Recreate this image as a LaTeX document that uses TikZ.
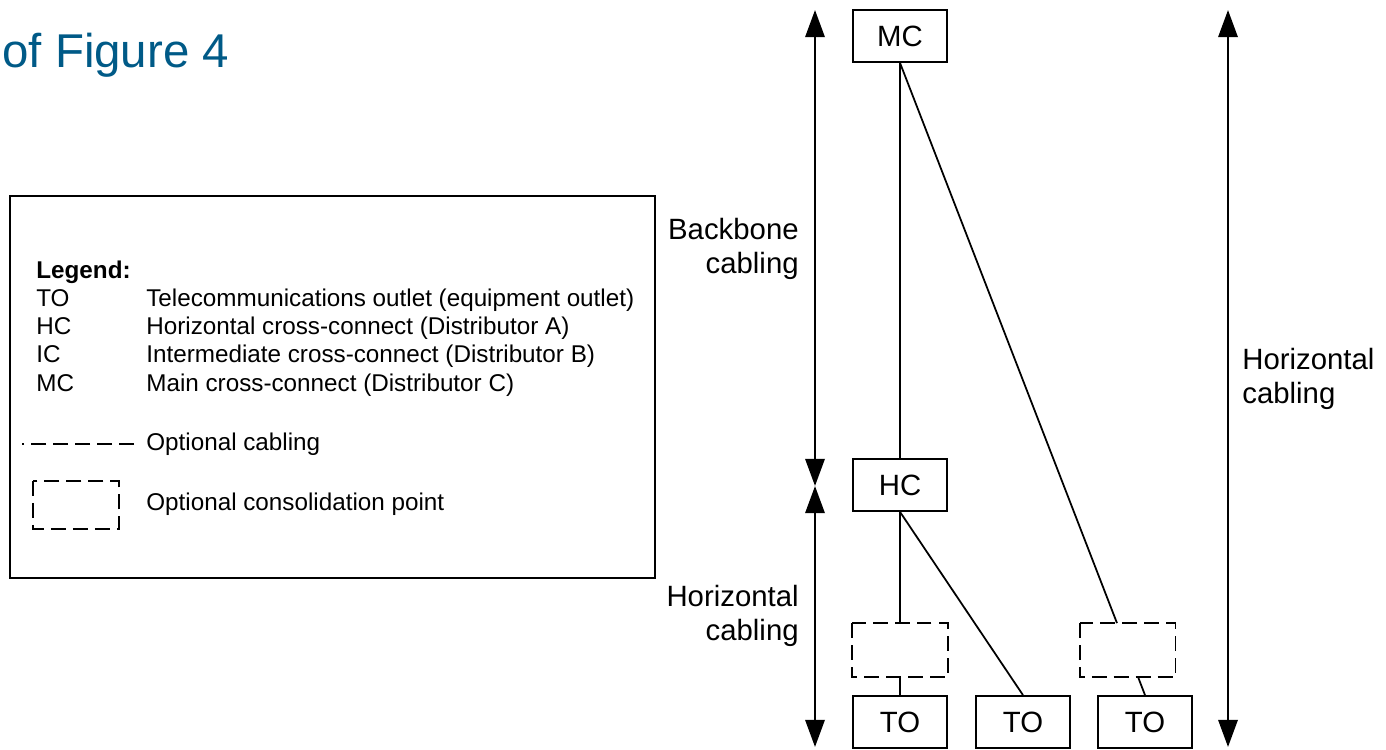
\documentclass[tikz,border=0pt]{standalone}
\usepackage{fontspec}
\setmainfont{Liberation Sans}
\usetikzlibrary{arrows.meta}
\definecolor{figblue}{RGB}{0,90,135}
\tikzstyle{box} = [draw,line width=1pt,minimum width=1.88cm,minimum height=1.04cm,inner sep=0pt,font=\fontsize{16.7}{19.3}\selectfont]
\tikzstyle{optdash} = [line width=1pt,dash pattern=on 8.5pt off 4pt]
\tikzstyle{cable} = [line width=1pt]
\tikzstyle{span} = [{Triangle[length=15.5pt,width=11pt]}-{Triangle[length=15.5pt,width=11pt]},line width=1.4pt]
\tikzstyle{lbl} = [inner sep=0pt,font=\fontsize{16.7}{19.3}\selectfont]
\tikzstyle{legtxt} = [inner sep=0pt,anchor=base west,font=\fontsize{13.8}{16}\selectfont]

\begin{document}
\begin{tikzpicture}[x=0.02cm,y=-0.02cm]
    \useasboundingbox (0,0) rectangle (1386,750);
    \node[inner sep=0pt,anchor=base west,text=figblue,font=\fontsize{27}{32}\selectfont] (title) at (2,68) {of Figure 4};
    % legend
    \draw[line width=1.1pt] (10,196) rectangle (655,578);
    \node[legtxt,font=\fontsize{13.8}{16}\selectfont\bfseries] (legend) at (36,278) {Legend:};
    \node[legtxt] (kto) at (36,306) {TO};
    \node[legtxt] (kto2) at (146,306) {Telecommunications outlet (equipment outlet)};
    \node[legtxt] (khc) at (36,334) {HC};
    \node[legtxt] (khc2) at (146,334) {Horizontal cross-connect (Distributor A)};
    \node[legtxt] (kic) at (36,362) {IC};
    \node[legtxt] (kic2) at (146,362) {Intermediate cross-connect (Distributor B)};
    \node[legtxt] (kmc) at (36,391) {MC};
    \node[legtxt] (kmc2) at (146,391) {Main cross-connect (Distributor C)};
    \coordinate (kdashR) at (134,444);
    \coordinate (kdashL) at (22,444);
    \draw[optdash] (kdashR) -- (kdashL);
    \node[legtxt] (kopt) at (146,450) {Optional cabling};
    \draw[optdash] (33,481) rectangle (119,529);
    \node[legtxt] (kcp) at (146,510) {Optional consolidation point};
    % distributors and outlets
    \node[box] (MC) at (900,36) {MC};
    \node[box] (HC) at (900,485) {HC};
    \node[box,draw=none] (CP1) at (900,650) {};
    \node[box,draw=none] (CP2) at (1127.5,650) {};
    \draw[optdash] (CP1.north west) rectangle (CP1.south east);
    \draw[optdash] (CP2.north west) rectangle (CP2.south east);
    \node[box] (TO1) at (900,722) {TO};
    \node[box] (TO2) at (1023,722) {TO};
    \node[box] (TO3) at (1145,722) {TO};
    \draw[cable] (MC.south) -- (HC.north);
    \draw[cable] (MC.south) -- ([xshift=-0.21cm]CP2.north);
    \draw[cable] (HC.south) -- (CP1.north);
    \draw[cable] (HC.south) -- (TO2.north);
    \draw[cable] (CP1.south) -- (TO1.north);
    \draw[cable] ([xshift=0.21cm]CP2.south) -- (TO3.north);
    % spans
    \coordinate (bbtop) at (815,10);
    \coordinate (bbmid) at (815,486);
    \coordinate (hzbot) at (815,747);
    \coordinate (alltop) at (1228,10);
    \coordinate (allbot) at (1228,747);
    \draw[span] (bbtop) -- (bbmid);
    \draw[span] (bbmid) -- (hzbot);
    \draw[span] (alltop) -- (allbot);
    \node[lbl,anchor=north east,align=right] (bblbl) at (799,218) {Backbone\\cabling};
    \node[lbl,anchor=north east,align=right] (hzlbl) at (799,585) {Horizontal\\cabling};
    \node[lbl,anchor=north west,align=left] (alllbl) at (1242,348) {Horizontal\\cabling};
\end{tikzpicture}
\end{document}
